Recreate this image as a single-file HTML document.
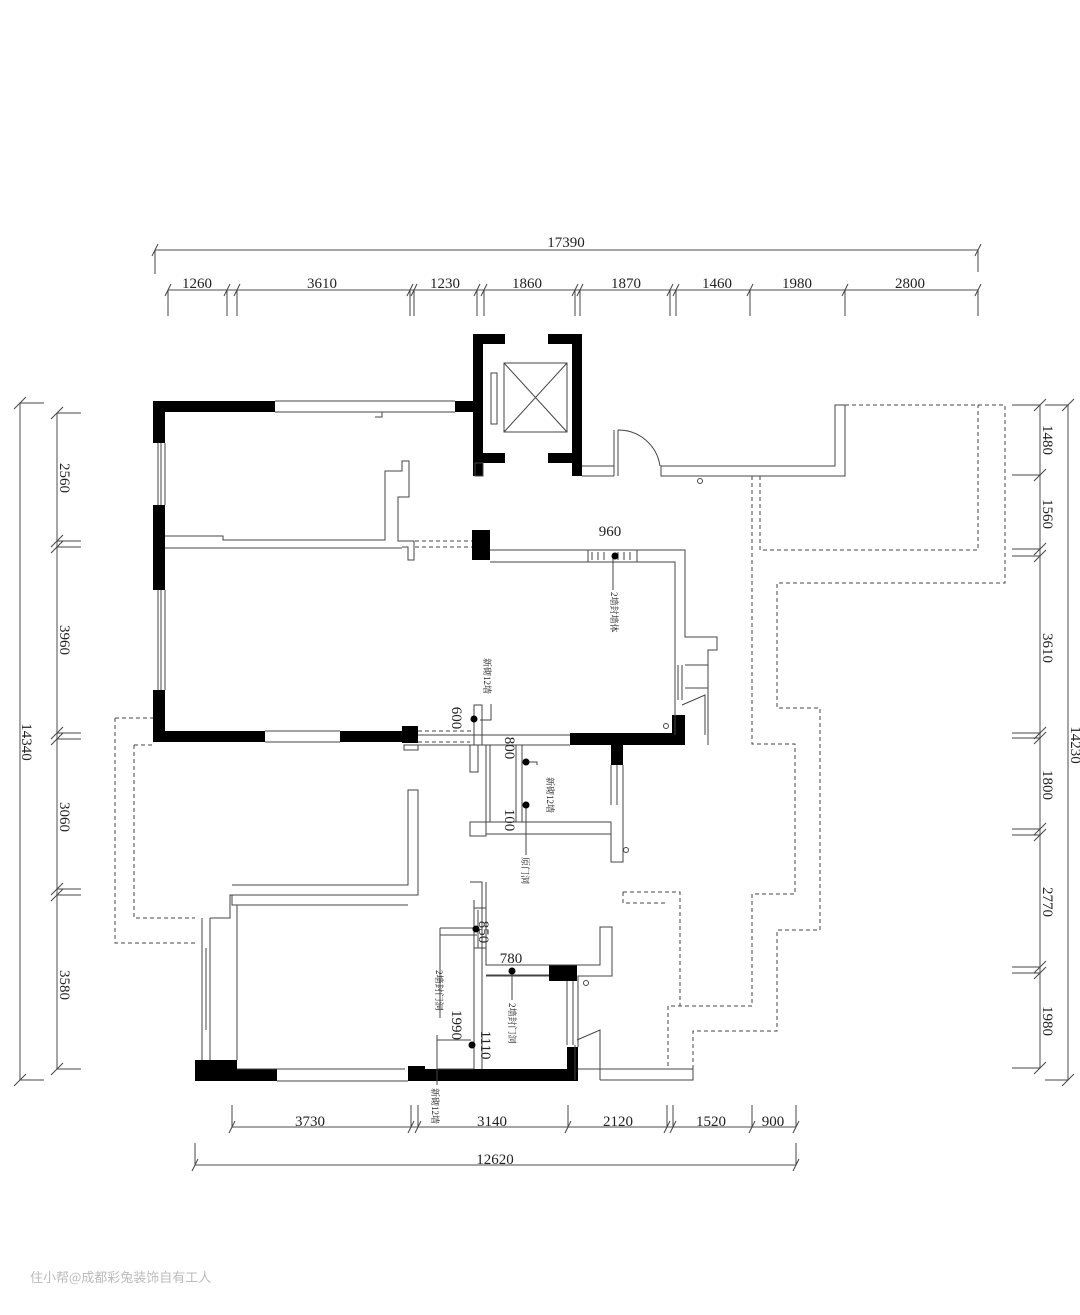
<!DOCTYPE html>
<html><head><meta charset="utf-8"><style>
html,body{margin:0;padding:0;background:#fff;}
svg{display:block}
text{font-family:"Liberation Serif","Noto Serif CJK SC",serif;fill:#222}
.t{font-family:"Liberation Sans","Noto Sans CJK SC",sans-serif;font-size:9px}
</style></head><body>
<svg width="1080" height="1315" viewBox="0 0 1080 1315" xmlns="http://www.w3.org/2000/svg">
<g stroke="#444" stroke-width="1" fill="none">
<line x1="155" y1="250" x2="978" y2="250" stroke="#888" stroke-width="1.5"/>
<line x1="155" y1="250" x2="155" y2="274"/><line x1="978" y1="250" x2="978" y2="272"/>
<path d="M152 256l6-12M975 256l6-12"/>
<line x1="168" y1="290" x2="978" y2="290" stroke="#888" stroke-width="1.5"/>
<path d="M168 290v26M227 290v26M237 290v26M410 290v26M414 290v26M477 290v26M484 290v26M575 290v26M580 290v26M670 290v26M676 290v26M750 290v26M845 290v26M978 290v26"/>
<path d="M165 296l6-12M224 296l6-12M234 296l6-12M407 296l6-12M411 296l6-12M474 296l6-12M481 296l6-12M572 296l6-12M577 296l6-12M667 296l6-12M673 296l6-12M747 296l6-12M842 296l6-12M975 296l6-12"/>
<line x1="20" y1="403" x2="20" y2="1080" stroke="#888" stroke-width="1.5"/>
<path d="M20 403h24M20 1080h24M14 409l12-12M14 1086l12-12"/>
<line x1="57" y1="413" x2="57" y2="1069" stroke="#888" stroke-width="1.5"/>
<path d="M57 413h24M57 541h24M57 547h24M57 733h24M57 739h24M57 889h24M57 895h24M57 1069h24"/>
<path d="M51 419l12-12M51 547l12-12M51 553l12-12M51 739l12-12M51 745l12-12M51 895l12-12M51 901l12-12M51 1075l12-12"/>
<line x1="1040" y1="405" x2="1040" y2="1068" stroke="#888" stroke-width="1.5"/>
<line x1="1068" y1="405" x2="1068" y2="1080" stroke="#888" stroke-width="1.5"/>
<path d="M1012 405h28M1012 475h28M1012 549h28M1012 556h28M1012 733h28M1012 738h28M1012 829h28M1012 835h28M1012 967h28M1012 973h28M1012 1068h28M1045 405h23M1045 1080h23"/>
<path d="M1034 411l12-12M1034 481l12-12M1034 555l12-12M1034 562l12-12M1034 739l12-12M1034 744l12-12M1034 835l12-12M1034 841l12-12M1034 973l12-12M1034 979l12-12M1034 1074l12-12M1062 411l12-12M1062 1086l12-12"/>
<line x1="232" y1="1127" x2="796" y2="1127" stroke="#888" stroke-width="1.5"/>
<path d="M232 1105v22M411 1105v22M418 1105v22M568 1105v22M667 1105v22M673 1105v22M752 1105v22M796 1105v22"/>
<path d="M229 1133l6-12M408 1133l6-12M415 1133l6-12M565 1133l6-12M664 1133l6-12M670 1133l6-12M749 1133l6-12M793 1133l6-12"/>
<line x1="195" y1="1165" x2="796" y2="1165" stroke="#888" stroke-width="1.5"/>
<path d="M195 1143v22M796 1143v22M192 1171l6-12M793 1171l6-12"/>
</g>
<g font-size="15" text-anchor="middle">
<text x="566" y="247">17390</text>
<text x="197" y="288">1260</text><text x="322" y="288">3610</text><text x="445" y="288">1230</text><text x="527" y="288">1860</text><text x="626" y="288">1870</text><text x="717" y="288">1460</text><text x="797" y="288">1980</text><text x="910" y="288">2800</text>
<text x="310" y="1126">3730</text><text x="492" y="1126">3140</text><text x="618" y="1126">2120</text><text x="711" y="1126">1520</text><text x="773" y="1126">900</text>
<text x="495" y="1164">12620</text>
<text transform="translate(60,478) rotate(90)">2560</text>
<text transform="translate(60,640) rotate(90)">3960</text>
<text transform="translate(60,817) rotate(90)">3060</text>
<text transform="translate(60,985) rotate(90)">3580</text>
<text transform="translate(22,742) rotate(90)">14340</text>
<text transform="translate(1043,440) rotate(90)">1480</text>
<text transform="translate(1043,514) rotate(90)">1560</text>
<text transform="translate(1043,648) rotate(90)">3610</text>
<text transform="translate(1043,785) rotate(90)">1800</text>
<text transform="translate(1043,902) rotate(90)">2770</text>
<text transform="translate(1043,1021) rotate(90)">1980</text>
<text transform="translate(1071,745) rotate(90)">14230</text>
<text x="610" y="536">960</text>
<text transform="translate(452,718) rotate(90)">600</text>
<text transform="translate(505,748) rotate(90)">800</text>
<text transform="translate(505,820) rotate(90)">100</text>
<text transform="translate(479,932) rotate(90)">850</text>
<text x="511" y="963">780</text>
<text transform="translate(452,1025) rotate(90)">1990</text>
<text transform="translate(481,1045) rotate(90)">1110</text>
</g>
<g fill="#000">
<rect x="153" y="401" width="122" height="11"/><rect x="455" y="401" width="18" height="11"/>
<rect x="153" y="401" width="12" height="42"/><rect x="153" y="505" width="12" height="85"/><rect x="153" y="690" width="12" height="52"/>
<rect x="153" y="731" width="112" height="11"/><rect x="340" y="731" width="75" height="11"/><rect x="402" y="726" width="16" height="17"/>
<rect x="473" y="334" width="10" height="142"/><rect x="473" y="334" width="32" height="10"/><rect x="548" y="334" width="34" height="10"/><rect x="572" y="334" width="10" height="142"/><rect x="473" y="453" width="32" height="10"/><rect x="548" y="453" width="34" height="10"/>
<rect x="472" y="530" width="18" height="30"/>
<rect x="570" y="733" width="115" height="12"/><rect x="672" y="715" width="13" height="30"/><rect x="611" y="745" width="12" height="20"/>
<rect x="195" y="1060" width="42" height="21"/><rect x="237" y="1069" width="40" height="12"/><rect x="408" y="1066" width="17" height="15"/><rect x="425" y="1069" width="153" height="12"/><rect x="567" y="1047" width="11" height="34"/>
<rect x="549" y="965" width="28" height="16"/>
</g>
<g stroke="#444" stroke-width="1" fill="none">
<path d="M275 401H455M275 412H455M165 443V505M158 443V505M161 443V505M165 590V690M158 590V690M161 590V690M265 731H340M265 742H340M611 765V805M623 765V805M617 765V805"/>
<rect x="504" y="363" width="63" height="69"/><path d="M504 363L567 432M567 363L504 432"/><rect x="491" y="373" width="6" height="51"/>
<rect x="475" y="463" width="8" height="13"/>
<path d="M582 466H614M582 476H614M614 430V476M618 430V476M618 430A42 42 0 0 1 660 466M661 466H835V405H845V476H661Z"/>
<circle cx="700" cy="481" r="2.5"/>
<path d="M165 536H223V540H385V471H402V461H409V497H398V541H414V560H408V547H402V547M165 548H402"/>
<path d="M372 412H382V417H375"/>
<path d="M415 541H472M415 547H472" stroke-dasharray="4,3"/>
<path d="M490 550H685V637H717V650H708V665H685M490 562H675V735M675 665V735M685 665H708V745M685 688H708"/>
<path d="M678 665V700M682 665V700"/>
<path d="M682 705L705 695V735"/>
<circle cx="666" cy="726" r="2.5"/>
<path d="M418 735H570M418 745H570"/>
<path d="M418 731H472" stroke-dasharray="4,3"/>
<path d="M404 745H418V750H404Z"/>
<path d="M588 550V562M637 550V562M592 552V560M598 552V560M604 552V560M618 552V560M624 552V560M630 552V560"/>
<path d="M474 705H482V745H474Z"/>
<path d="M470 745V772H478V745M478 745H570M486 745V822M490 745V822M516 745V822M522 745V822"/>
<path d="M470 822H486V836H470ZM486 822H611V862H623V765M486 834H611"/>
<path d="M115 718H153M115 718V943H195M134 745H153M134 745V918H195M418 742H470" stroke-dasharray="4,3"/>
<path d="M202 918V1060M210 918V1060M202 948V1030M206 948V1030M210 918H230V895H418V790H408V885H232M237 905V1060"/>
<path d="M232 895V905H408"/>
<path d="M405 1069H237M277 1081H408"/>
<path d="M470 882H482V1069M474 900V1069M486 882V965H600V927H612V976H578V1047M486 976H549M474 908H486M474 948H486"/>
<path d="M478 910V948M486 975H549"/>
<path d="M440 928H474M440 928V1018M437 1035V1069H474"/>
<path d="M567 981V1045M573 981V1045M575 1045V1080M577 1040L600 1030V1080M600 1080H693V1069H578"/>
<circle cx="586" cy="983" r="2.5"/><circle cx="626" cy="850" r="2.5"/>
<!-- dashed right -->
<path d="M845 405H1005V583H777V708H820V930H777V1031H693V1069" stroke-dasharray="4,3"/>
<path d="M760 476V550H978V405" stroke-dasharray="4,3"/>
<path d="M752 476V744H795V894H752V1006H668V1069" stroke-dasharray="4,3"/>
<path d="M623 892H680V1006M623 892V903H668" stroke-dasharray="4,3"/>
<path d="M613 556V590M480 720H491V704M526 762H537V765M526 805V855M477 935H440M512 971V1000M471 1040H437V1085"/>
</g>
<g fill="#000">
<circle cx="615" cy="556" r="3.5"/><circle cx="474" cy="719" r="3.5"/><circle cx="526" cy="762" r="3.5"/><circle cx="526" cy="805" r="3.5"/><circle cx="476" cy="929" r="3.5"/><circle cx="512" cy="971" r="3.5"/><circle cx="472" cy="1045" r="3.5"/>
</g>
<g class="t">
<text transform="translate(611,592) rotate(90)">2墙封墙体</text>
<text transform="translate(484,658) rotate(90)">新砌12墙</text>
<text transform="translate(547,777) rotate(90)">新砌12墙</text>
<text transform="translate(522,857) rotate(90)">原门洞</text>
<text transform="translate(436,970) rotate(90)">2墙封门洞</text>
<text transform="translate(509,1003) rotate(90)">2墙封门洞</text>
<text transform="translate(432,1088) rotate(90)">新砌12墙</text>
</g>
<text x="30" y="1282" font-size="13" style="fill:#bbb;font-family:'Noto Sans CJK SC',sans-serif">住小帮@成都彩兔装饰自有工人</text>
</svg>
</body></html>
